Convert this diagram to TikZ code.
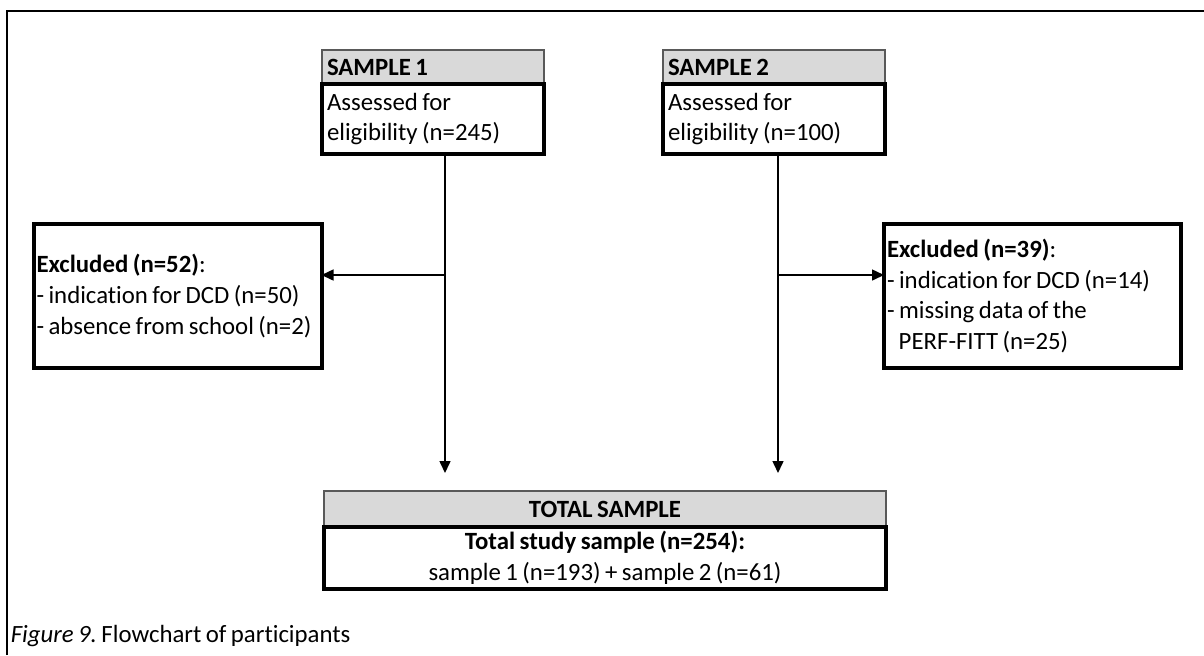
\documentclass[tikz,border=0pt]{standalone}
\usepackage{fontspec}
\setmainfont{Carlito}[Ligatures=NoCommon,WordSpace=0.8]
\usepackage{tikz}
\usetikzlibrary{
    arrows.meta,
    positioning
}
\definecolor{hdrfill}{HTML}{D9D9D9}
\definecolor{hdrline}{HTML}{595959}
\newcommand{\boxfont}{\fontsize{12.4}{15.3}\selectfont\frenchspacing}

\begin{document}
\begin{tikzpicture}[x=0.5pt,y=-0.5pt,
   hdr/.style={draw=hdrline,line width=0.8pt,fill=hdrfill,inner xsep=2.5pt,inner ysep=0pt,
               outer sep=0pt,minimum height=17pt,align=flush left,font=\boxfont\bfseries},
   body/.style={draw,line width=2pt,fill=white,inner xsep=2.5pt,inner ysep=0pt,
                outer sep=0pt,align=flush left,font=\boxfont},
   excl/.style={body,inner xsep=1.5pt,minimum height=72pt},
   flow/.style={line width=0.75pt,-{Triangle[length=6pt,width=5.5pt]}},
   every path/.style={line width=0.75pt}]
  \useasboundingbox (0,0) rectangle (1204,655);
  % frame round the figure
  \draw[line width=1pt] (7,655) -- (7,11) -- (1204,11);
  % two samples
  \node[hdr,text width=106pt](s1head) at (433,67){SAMPLE 1};
  \node[body,text width=106pt,minimum height=35pt,below=0pt of s1head](s1body){Assessed for\\eligibility (n=245)};
  \node[hdr,text width=106pt](s2head) at (774,67){SAMPLE 2};
  \node[body,text width=106pt,minimum height=35pt,below=0pt of s2head](s2body){Assessed for\\eligibility (n=100)};
  % exclusions
  \node[excl,text width=141pt](exL) at (177.5,296){\textbf{Excluded (n=52)}:\\- indication for DCD (n=50)\\- absence from school (n=2)};
  \node[excl,text width=145.5pt](exR) at (1032.5,296){\textbf{Excluded (n=39)}:\\- indication for DCD (n=14)\\- missing data of the\\\phantom{-\,}PERF-FITT (n=25)};
  % total
  \node[hdr,align=flush center,text width=276pt,minimum height=18pt](tothead) at (605,509){TOTAL SAMPLE};
  \node[body,align=flush center,text width=276pt,minimum height=31pt,below=0pt of tothead](totbody){\textbf{Total study sample (n=254):}\\sample 1 (n=193) + sample 2 (n=61)};
  % connectors
  \coordinate (t1) at (445,473); \coordinate (t2) at (778,473);
  \coordinate (j1) at (445,275); \coordinate (j2) at (778,275);
  \draw[flow] (t1 |- s1body.south) -- (t1);
  \draw[flow] (t2 |- s2body.south) -- (t2);
  \draw[flow] (j1) -- (exL.east |- j1);
  \draw[flow] (j2) -- (exR.west |- j2);
  \node[anchor=base west,inner sep=0pt,font=\boxfont](cap) at (10,642){\textit{Figure 9.} Flowchart of participants};
\end{tikzpicture}
\end{document}
